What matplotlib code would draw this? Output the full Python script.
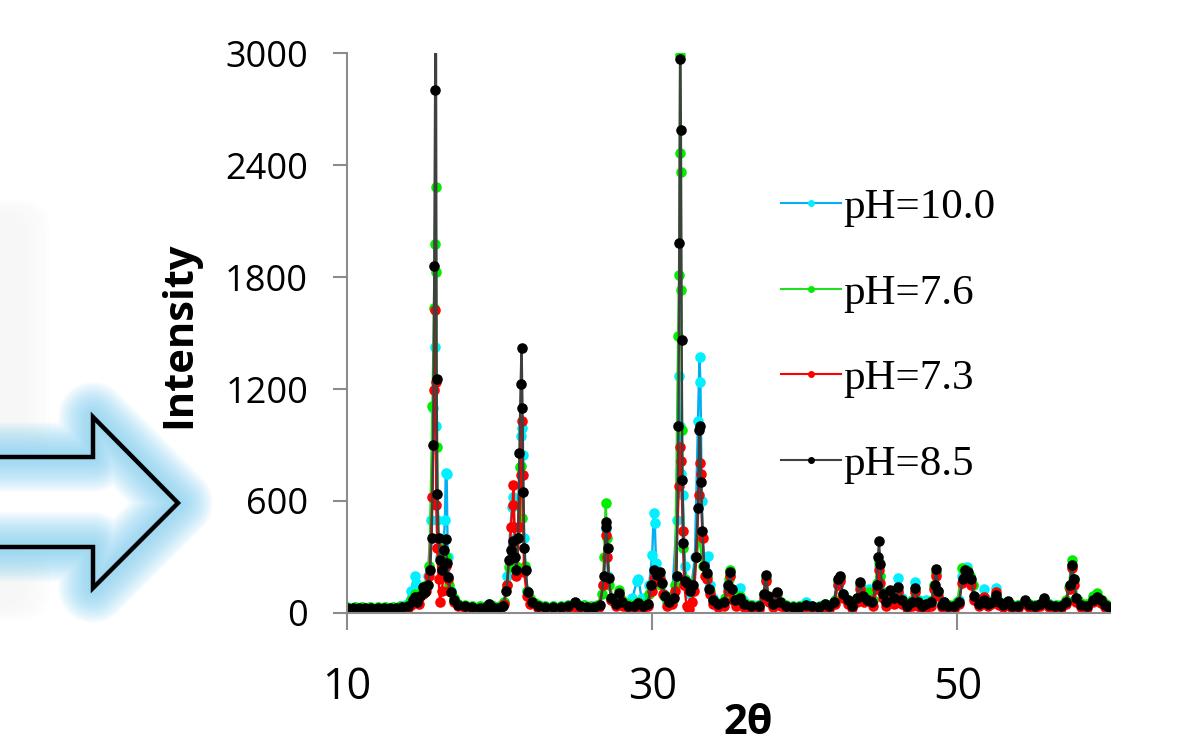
import matplotlib
matplotlib.use("Agg")
import matplotlib.pyplot as plt
from matplotlib.patches import Polygon, FancyBboxPatch
from matplotlib.lines import Line2D

# ---------------- data (2theta, intensity) ----------------
series_labels = ["pH=10.0", "pH=7.6", "pH=7.3", "pH=8.5"]

ph100_points = [
    (10.0, 30), (10.5, 30), (11.0, 30), (11.5, 31), (12.0, 30), (12.5, 30), (13.0, 32),
    (13.5, 35), (13.8, 45), (14.2, 120), (14.44, 200), (14.55, 160), (14.8, 100), (14.96, 130),
    (15.3, 200), (15.5, 500), (15.65, 1100), (15.75, 1423), (15.82, 1000), (15.9, 500),
    (16.1, 300), (16.35, 400), (16.42, 498), (16.47, 750), (16.53, 743), (16.6, 300),
    (16.8, 120), (17.0, 70), (17.3, 50), (17.7, 40), (18.2, 35), (18.7, 35), (19.1, 38),
    (19.3, 50), (19.6, 38), (20.0, 35), (20.3, 60), (20.5, 200), (20.8, 568), (20.9, 622),
    (21.0, 400), (21.2, 400), (21.4, 948), (21.46, 991), (21.52, 846), (21.6, 400), (21.8, 120),
    (22.1, 60), (22.5, 40), (23.0, 38), (23.5, 38), (24.0, 40), (24.5, 45), (25.0, 55),
    (25.5, 42), (26.0, 40), (26.5, 45), (26.8, 150), (26.95, 450), (27.1, 200), (27.3, 80),
    (27.6, 50), (27.85, 100), (28.1, 60), (28.4, 55), (28.7, 80), (29.0, 170), (29.1, 182),
    (29.3, 80), (29.55, 60), (29.8, 150), (30.0, 311), (30.1, 535), (30.17, 482), (30.25, 268),
    (30.5, 200), (30.75, 100), (31.0, 60), (31.3, 80), (31.6, 500), (31.75, 1267), (31.82, 1000),
    (31.9, 744), (32.0, 631), (32.15, 250), (32.3, 150), (32.5, 100), (32.8, 300), (33.0, 1031),
    (33.1, 1369), (33.16, 1236), (33.25, 600), (33.4, 250), (33.66, 303), (33.8, 150),
    (34.0, 80), (34.2, 60), (34.6, 55), (34.95, 140), (35.1, 200), (35.3, 90), (35.5, 80),
    (35.75, 134), (35.95, 70), (36.2, 50), (36.6, 45), (37.0, 45), (37.3, 100), (37.45, 180),
    (37.65, 80), (37.9, 55), (38.2, 100), (38.45, 60), (38.8, 40), (39.2, 38), (39.6, 38),
    (40.1, 59), (40.5, 40), (40.9, 38), (41.3, 50), (41.6, 40), (41.95, 60), (42.15, 150),
    (42.3, 180), (42.5, 100), (42.8, 70), (43.1, 45), (43.4, 80), (43.6, 150), (43.8, 100),
    (44.0, 110), (44.2, 128), (44.45, 70), (44.7, 150), (44.84, 250), (44.95, 200), (45.1, 100),
    (45.35, 60), (45.6, 110), (45.85, 80), (46.1, 187), (46.4, 80), (46.7, 50), (47.0, 70),
    (47.2, 166), (47.5, 70), (47.75, 55), (47.97, 70), (48.25, 60), (48.45, 140), (48.6, 210),
    (48.75, 110), (49.0, 50), (49.15, 60), (49.4, 45), (49.8, 40), (50.1, 70), (50.3, 200),
    (50.6, 247), (50.8, 200), (51.0, 150), (51.2, 80), (51.4, 60), (51.76, 128), (51.95, 70),
    (52.1, 60), (52.5, 132), (52.8, 60), (53.0, 50), (53.3, 60), (53.6, 45), (54.0, 45),
    (54.4, 60), (54.7, 48), (55.1, 45), (55.4, 50), (55.7, 70), (56.0, 48), (56.4, 45),
    (56.8, 45), (57.1, 60), (57.35, 150), (57.5, 250), (57.62, 170), (57.8, 80), (58.1, 50),
    (58.5, 45), (58.9, 75), (59.15, 90), (59.4, 70), (59.7, 50), (59.94, 35),
]

ph76_points = [
    (10.0, 30), (10.5, 31), (11.0, 32), (11.5, 31), (12.0, 30), (12.5, 31), (13.0, 32),
    (13.5, 35), (14.0, 45), (14.2, 70), (14.45, 100), (14.7, 80), (14.96, 130), (15.2, 150),
    (15.4, 250), (15.6, 1110), (15.7, 1634), (15.75, 1978), (15.8, 2283), (15.85, 1825),
    (15.9, 887), (16.0, 350), (16.2, 200), (16.35, 250), (16.47, 300), (16.7, 150), (17.0, 80),
    (17.3, 50), (17.7, 42), (18.2, 38), (18.7, 36), (19.1, 38), (19.3, 50), (19.6, 38),
    (20.0, 35), (20.3, 60), (20.5, 150), (20.6, 246), (20.75, 280), (20.9, 300), (21.05, 250),
    (21.2, 400), (21.35, 782), (21.42, 790), (21.5, 509), (21.65, 250), (21.8, 120), (22.0, 80),
    (22.3, 55), (22.6, 45), (23.0, 40), (23.5, 40), (24.0, 40), (24.5, 45), (25.0, 55),
    (25.5, 45), (26.0, 40), (26.4, 45), (26.7, 100), (26.85, 300), (26.95, 589), (27.05, 400),
    (27.2, 150), (27.5, 60), (27.85, 123), (28.05, 70), (28.4, 48), (28.8, 45), (29.1, 60),
    (29.5, 50), (29.8, 100), (30.0, 150), (30.2, 220), (30.4, 200), (30.6, 150), (30.8, 90),
    (31.0, 70), (31.3, 90), (31.5, 150), (31.7, 1482), (31.76, 1810), (31.8, 2466),
    (31.83, 2990), (31.87, 2364), (31.9, 1728), (31.95, 980), (32.05, 350), (32.15, 180),
    (32.3, 160), (32.6, 140), (32.9, 300), (33.1, 406), (33.3, 250), (33.6, 200), (33.8, 120),
    (34.0, 70), (34.5, 55), (34.8, 80), (35.0, 180), (35.1, 232), (35.3, 100), (35.5, 70),
    (35.75, 90), (36.0, 55), (36.5, 45), (37.0, 45), (37.3, 100), (37.45, 180), (37.65, 80),
    (37.9, 55), (38.2, 105), (38.45, 60), (38.8, 42), (39.2, 40), (39.6, 40), (40.0, 45),
    (40.5, 40), (41.0, 40), (41.3, 50), (41.6, 42), (41.95, 70), (42.15, 170), (42.3, 190),
    (42.5, 100), (42.8, 70), (43.1, 45), (43.4, 80), (43.6, 150), (43.85, 90), (44.2, 110),
    (44.5, 70), (44.7, 160), (44.84, 274), (44.95, 200), (45.1, 110), (45.35, 65), (45.6, 110),
    (45.85, 80), (46.1, 120), (46.4, 70), (46.7, 45), (47.0, 65), (47.2, 120), (47.45, 65),
    (47.7, 45), (48.0, 50), (48.3, 65), (48.45, 150), (48.6, 220), (48.75, 120), (49.0, 50),
    (49.15, 60), (49.5, 45), (49.8, 42), (50.0, 60), (50.3, 241), (50.6, 230), (50.8, 200),
    (51.0, 150), (51.2, 80), (51.45, 55), (51.76, 75), (52.0, 55), (52.2, 60), (52.5, 90),
    (52.75, 60), (53.0, 50), (53.3, 60), (53.6, 45), (54.0, 45), (54.4, 65), (54.7, 48),
    (55.1, 45), (55.4, 50), (55.7, 75), (56.0, 50), (56.5, 45), (56.9, 50), (57.1, 70),
    (57.3, 140), (57.5, 284), (57.65, 180), (57.9, 70), (58.2, 50), (58.5, 50), (58.9, 90),
    (59.15, 107), (59.5, 70), (59.75, 50), (59.94, 40),
]

ph73_points = [
    (10.0, 15), (10.5, 16), (11.0, 18), (11.5, 16), (12.0, 15), (12.5, 15), (13.0, 15),
    (13.5, 18), (14.0, 25), (14.2, 45), (14.45, 70), (14.7, 50), (14.96, 100), (15.2, 120),
    (15.4, 200), (15.6, 620), (15.7, 1194), (15.75, 1624), (15.8, 1239), (15.85, 580),
    (15.92, 350), (16.0, 180), (16.1, 60), (16.2, 120), (16.35, 200), (16.47, 250), (16.6, 180),
    (16.7, 120), (17.0, 60), (17.3, 35), (17.7, 25), (18.0, 20), (18.5, 18), (19.0, 20),
    (19.3, 35), (19.6, 22), (20.0, 20), (20.3, 50), (20.5, 150), (20.75, 461), (20.85, 579),
    (20.9, 686), (20.97, 461), (21.1, 200), (21.3, 461), (21.4, 739), (21.47, 1029),
    (21.52, 739), (21.6, 220), (21.8, 90), (22.0, 50), (22.5, 25), (23.0, 18), (23.5, 15),
    (24.0, 18), (24.5, 22), (25.0, 30), (25.5, 20), (26.0, 20), (26.5, 30), (26.8, 150),
    (26.95, 420), (27.05, 300), (27.3, 70), (27.6, 35), (27.85, 90), (28.1, 40), (28.5, 20),
    (28.8, 20), (29.1, 40), (29.4, 25), (29.7, 40), (30.0, 120), (30.15, 190), (30.3, 170),
    (30.5, 180), (30.7, 100), (31.0, 40), (31.3, 50), (31.5, 120), (31.75, 683), (31.83, 888),
    (31.9, 816), (32.0, 437), (32.1, 150), (32.25, 40), (32.4, 20), (32.6, 60), (32.75, 120),
    (32.9, 300), (33.05, 631), (33.12, 806), (33.18, 744), (33.3, 400), (33.45, 200),
    (33.6, 180), (33.8, 100), (34.0, 50), (34.3, 30), (34.7, 40), (34.95, 120), (35.1, 200),
    (35.3, 70), (35.5, 40), (35.75, 60), (36.0, 30), (36.5, 20), (37.0, 22), (37.3, 80),
    (37.45, 170), (37.65, 60), (37.9, 30), (38.2, 109), (38.45, 40), (38.8, 20), (39.2, 18),
    (39.6, 18), (40.0, 25), (40.5, 20), (40.9, 18), (41.3, 30), (41.6, 20), (41.95, 50),
    (42.15, 150), (42.3, 170), (42.5, 80), (42.8, 50), (43.1, 25), (43.4, 60), (43.6, 130),
    (43.85, 60), (44.2, 70), (44.5, 40), (44.7, 130), (44.84, 230), (44.95, 160), (45.1, 80),
    (45.35, 40), (45.6, 100), (45.85, 50), (46.1, 110), (46.4, 50), (46.7, 25), (47.0, 40),
    (47.2, 110), (47.45, 40), (47.7, 22), (48.0, 30), (48.3, 40), (48.45, 130), (48.6, 200),
    (48.75, 90), (49.0, 30), (49.2, 40), (49.5, 22), (49.8, 20), (50.1, 50), (50.3, 160),
    (50.5, 200), (50.7, 180), (50.9, 150), (51.1, 70), (51.4, 35), (51.76, 86), (52.0, 40),
    (52.2, 50), (52.5, 112), (52.75, 45), (53.0, 30), (53.3, 45), (53.6, 25), (54.0, 25),
    (54.4, 50), (54.7, 30), (55.1, 25), (55.4, 35), (55.7, 60), (56.0, 30), (56.4, 22),
    (56.8, 25), (57.1, 50), (57.35, 130), (57.5, 240), (57.62, 150), (57.8, 60), (58.1, 30),
    (58.5, 25), (58.9, 60), (59.15, 80), (59.4, 55), (59.7, 30), (59.94, 20),
]

ph85_points = [
    (10.0, 25), (10.4, 26), (10.8, 27), (11.2, 28), (11.6, 27), (12.0, 26), (12.4, 25),
    (12.8, 26), (13.2, 27), (13.6, 30), (14.0, 40), (14.3, 70), (14.45, 88), (14.6, 60),
    (14.8, 90), (14.96, 140), (15.1, 110), (15.3, 150), (15.45, 230), (15.55, 400),
    (15.65, 900), (15.72, 1860), (15.78, 2800), (15.82, 3600), (15.87, 1255), (15.92, 640),
    (16.0, 402), (16.08, 284), (16.2, 230), (16.35, 337), (16.47, 395), (16.55, 268),
    (16.65, 193), (16.8, 110), (17.0, 70), (17.3, 45), (17.7, 35), (18.2, 30), (18.7, 28),
    (19.1, 30), (19.3, 48), (19.5, 32), (19.9, 28), (20.2, 35), (20.45, 120), (20.6, 284),
    (20.75, 340), (20.9, 385), (21.0, 300), (21.1, 230), (21.2, 400), (21.3, 857),
    (21.38, 1227), (21.44, 1420), (21.5, 1098), (21.56, 648), (21.62, 348), (21.7, 230),
    (21.85, 110), (22.1, 60), (22.5, 40), (23.0, 32), (23.5, 30), (24.0, 32), (24.5, 40),
    (24.97, 57), (25.3, 38), (25.7, 30), (26.2, 30), (26.6, 45), (26.85, 200), (26.95, 461),
    (27.0, 487), (27.08, 348), (27.15, 187), (27.3, 80), (27.6, 50), (27.85, 107), (28.05, 60),
    (28.4, 35), (28.8, 35), (29.1, 54), (29.4, 40), (29.7, 50), (29.95, 150), (30.15, 230),
    (30.3, 204), (30.5, 220), (30.65, 160), (30.85, 90), (31.1, 60), (31.4, 80), (31.6, 200),
    (31.72, 1000), (31.78, 1984), (31.83, 2968), (31.88, 2589), (31.93, 1462), (31.98, 713),
    (32.05, 375), (32.15, 170), (32.3, 161), (32.5, 120), (32.7, 150), (32.85, 300),
    (33.0, 560), (33.08, 980), (33.14, 1000), (33.2, 703), (33.28, 437), (33.4, 250),
    (33.6, 214), (33.75, 130), (34.0, 70), (34.3, 50), (34.7, 60), (34.95, 150), (35.1, 221),
    (35.2, 130), (35.4, 70), (35.75, 80), (36.0, 50), (36.5, 40), (37.0, 40), (37.3, 100),
    (37.45, 204), (37.6, 90), (37.9, 50), (38.2, 113), (38.4, 60), (38.8, 35), (39.2, 32),
    (39.6, 30), (40.1, 45), (40.5, 35), (40.9, 30), (41.3, 50), (41.6, 35), (41.9, 60),
    (42.15, 180), (42.3, 198), (42.5, 100), (42.8, 70), (43.1, 40), (43.4, 80), (43.6, 166),
    (43.8, 90), (44.1, 70), (44.4, 60), (44.7, 150), (44.8, 300), (44.86, 386), (44.95, 260),
    (45.1, 100), (45.35, 60), (45.6, 123), (45.85, 80), (46.1, 139), (46.35, 70), (46.7, 40),
    (47.0, 60), (47.2, 134), (47.45, 60), (47.7, 40), (47.97, 50), (48.3, 60), (48.5, 150),
    (48.6, 236), (48.75, 120), (49.0, 45), (49.15, 60), (49.4, 40), (49.8, 35), (50.1, 60),
    (50.35, 180), (50.5, 230), (50.7, 220), (50.9, 180), (51.1, 90), (51.4, 50), (51.76, 70),
    (52.0, 50), (52.3, 60), (52.5, 96), (52.7, 60), (53.0, 45), (53.3, 63), (53.6, 40),
    (54.0, 40), (54.4, 70), (54.7, 45), (55.1, 40), (55.4, 50), (55.7, 80), (56.0, 45),
    (56.4, 40), (56.8, 40), (57.1, 60), (57.35, 150), (57.5, 257), (57.62, 180), (57.8, 80),
    (58.1, 45), (58.5, 40), (58.9, 70), (59.15, 86), (59.4, 70), (59.7, 45), (59.94, 32),
]

x_ticks = [10, 30, 50]
y_ticks = [0, 600, 1200, 1800, 2400, 3000]

# ---------------- styling ----------------
line_colors = ["#00b0f0", "#22dd22", "#ff0000", "#404040"]
marker_colors = ["#00f0ff", "#00ee00", "#ff0000", "#000000"]
all_points = [ph100_points, ph76_points, ph73_points, ph85_points]

W, H = 1191, 749
fig = plt.figure(figsize=(W / 100, H / 100), dpi=100)

# decorative background (arrow and faded panel on the left)
bg = fig.add_axes([0, 0, 1, 1], zorder=0)
bg.set_xlim(0, W)
bg.set_ylim(H, 0)
bg.axis("off")
for k in range(6):
    grow = (6 - k) * 5
    bg.add_patch(FancyBboxPatch((-80, 215 - grow / 2), 100 + grow, 390 + grow,
                                boxstyle="round,pad=0,rounding_size=30",
                                facecolor="#e0e0e0", edgecolor="none", alpha=0.035))
arrow_xy = [(-20, 457), (93, 457), (93, 417), (178, 503), (93, 588), (93, 547), (-20, 547)]
bg.add_patch(Polygon(arrow_xy, closed=True, facecolor="white", edgecolor="none"))
for lw in range(50, 4, -3):
    bg.add_patch(Polygon(arrow_xy, closed=True, facecolor="none", edgecolor="#7fd0f2",
                         linewidth=lw, alpha=0.075, joinstyle="round"))
bg.add_patch(Polygon(arrow_xy, closed=True, facecolor="none", edgecolor="black",
                     linewidth=3.2, joinstyle="miter"))

# main chart
ax = fig.add_axes([347 / W, 1 - 613 / H, (1110 - 347) / W, (613 - 53) / H], zorder=1)
ax.patch.set_alpha(0)
for pts, lc, mc in zip(all_points, line_colors, marker_colors):
    xs = [p[0] for p in pts]
    ys = [p[1] for p in pts]
    ax.plot(xs, ys, color=lc, lw=1.7, marker="o", ms=7.6, mfc=mc, mec=mc, mew=0)

ax.set_xlim(10, 60.0)
ax.set_ylim(0, 3000)
ax.set_xticks(x_ticks)
ax.set_yticks(y_ticks)
for s in ["top", "right"]:
    ax.spines[s].set_visible(False)
for s in ["left", "bottom"]:
    ax.spines[s].set_color("#8c8c8c")
    ax.spines[s].set_linewidth(1.5)
ax.tick_params(axis="both", direction="out", color="#8c8c8c", width=1.5)
ax.tick_params(axis="y", length=10, pad=18, labelsize=26)
ax.tick_params(axis="x", length=12, pad=26, labelsize=31)
for lab in ax.get_xticklabels() + ax.get_yticklabels():
    lab.set_fontfamily(["Open Sans", "DejaVu Sans"])

fig.text(180 / W, 1 - 335 / H, "Intensity", rotation=90, ha="center", va="center",
         fontsize=30, fontweight="bold", family=["Open Sans", "DejaVu Sans"])
fig.text(748 / W, 1 - 724 / H, "2θ", ha="center", va="center",
         fontsize=30, fontweight="bold", family=["Open Sans", "DejaVu Sans"])

handles = [Line2D([], [], color=lc, lw=1.5, marker="o", ms=4, mfc=mc, mec=mc)
           for lc, mc in zip(line_colors, marker_colors)]
fig.legend(handles, series_labels, loc="upper left", bbox_to_anchor=(781 / W, 1 - 188 / H),
           frameon=False, prop={"family": "Liberation Serif", "size": 31},
           handlelength=1.4, handletextpad=0.05, labelspacing=1.08, borderpad=0,
           borderaxespad=0)

fig.savefig("out.png", dpi=100)
